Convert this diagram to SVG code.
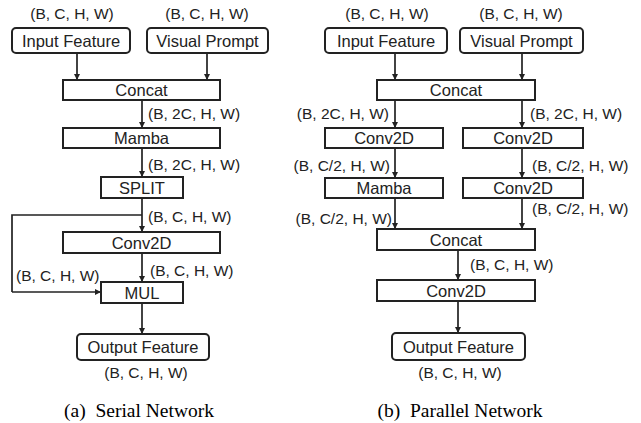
<svg xmlns="http://www.w3.org/2000/svg" width="641" height="423" viewBox="0 0 641 423">
<defs>
<marker id="ah" viewBox="0 0 10 10" refX="10" refY="5" markerWidth="6" markerHeight="6" markerUnits="userSpaceOnUse" orient="auto">
<path d="M0,0 L10,5 L0,10 z" fill="#222"/>
</marker>
<style>
.box{fill:#fff;stroke:#222;stroke-width:2}
.bt{font-family:"Liberation Sans",Arial,sans-serif;font-size:16.5px;fill:#222;text-anchor:middle}
.lb{font-family:"Liberation Sans",Arial,sans-serif;font-size:15.5px;fill:#222}
.cap{font-family:"Liberation Serif","Times New Roman",serif;font-size:19.5px;fill:#000;text-anchor:middle}
.ln{fill:none;stroke:#222;stroke-width:1.7;marker-end:url(#ah)}
.pl{fill:none;stroke:#222;stroke-width:1.7}
</style>
</defs>
<rect width="641" height="423" fill="#fff"/>
<g id="connectors">
<path class="ln" d="M77,53 V80"/>
<path class="ln" d="M207,53 V80"/>
<path class="ln" d="M142,100 V128"/>
<path class="ln" d="M142,148 V177"/>
<path class="ln" d="M142,198 V232"/>
<path class="pl" d="M142,215 H12 V292"/>
<path class="ln" d="M12,292 H101"/>
<path class="ln" d="M142,253 V282"/>
<path class="ln" d="M142,303 V334"/>
<path class="ln" d="M395,53 V80"/>
<path class="ln" d="M522,53 V80"/>
<path class="ln" d="M395,100 V128"/>
<path class="ln" d="M522,100 V128"/>
<path class="ln" d="M395,148 V178"/>
<path class="ln" d="M522,148 V178"/>
<path class="ln" d="M395,198 V229"/>
<path class="ln" d="M522,198 V229"/>
<path class="ln" d="M458,250 V280"/>
<path class="ln" d="M458,301 V333"/>
</g>
<g id="labels">
<text class="lb" x="72" y="19" text-anchor="middle">(B, C, H, W)</text>
<text class="lb" x="207" y="19" text-anchor="middle">(B, C, H, W)</text>
<text class="lb" x="148" y="119">(B, 2C, H, W)</text>
<text class="lb" x="148" y="170">(B, 2C, H, W)</text>
<text class="lb" x="148" y="222">(B, C, H, W)</text>
<text class="lb" x="150" y="276">(B, C, H, W)</text>
<text class="lb" x="16" y="281">(B, C, H, W)</text>
<text class="lb" x="146" y="378" text-anchor="middle">(B, C, H, W)</text>
<text class="lb" x="387" y="19" text-anchor="middle">(B, C, H, W)</text>
<text class="lb" x="521" y="19" text-anchor="middle">(B, C, H, W)</text>
<text class="lb" x="389" y="119" text-anchor="end">(B, 2C, H, W)</text>
<text class="lb" x="530" y="119">(B, 2C, H, W)</text>
<text class="lb" x="390" y="171" text-anchor="end">(B, C/2, H, W)</text>
<text class="lb" x="532" y="171">(B, C/2, H, W)</text>
<text class="lb" x="392" y="224" text-anchor="end">(B, C/2, H, W)</text>
<text class="lb" x="532" y="214">(B, C/2, H, W)</text>
<text class="lb" x="470" y="270">(B, C, H, W)</text>
<text class="lb" x="460" y="378" text-anchor="middle">(B, C, H, W)</text>
<text class="cap" x="139" y="417" xml:space="preserve">(a)  Serial Network</text>
<text class="cap" x="460" y="417" xml:space="preserve">(b)  Parallel Network</text>
</g>
<g id="a-input"><rect class="box" x="12" y="28" width="118" height="25" rx="4"/><text class="bt" x="71" y="46.5">Input Feature</text></g>
<g id="a-prompt"><rect class="box" x="147" y="28" width="121" height="25" rx="4"/><text class="bt" x="207.5" y="46.5">Visual Prompt</text></g>
<g id="a-concat"><rect class="box" x="63" y="80" width="157" height="20"/><text class="bt" x="141.5" y="96">Concat</text></g>
<g id="a-mamba"><rect class="box" x="63" y="128" width="157" height="20"/><text class="bt" x="141.5" y="144">Mamba</text></g>
<g id="a-split"><rect class="box" x="101" y="177" width="82" height="21"/><text class="bt" x="142" y="193.5">SPLIT</text></g>
<g id="a-conv"><rect class="box" x="63" y="232" width="157" height="21"/><text class="bt" x="141.5" y="248.5">Conv2D</text></g>
<g id="a-mul"><rect class="box" x="101" y="282" width="82" height="21"/><text class="bt" x="142" y="298.5">MUL</text></g>
<g id="a-output"><rect class="box" x="77" y="334" width="132" height="26" rx="4"/><text class="bt" x="143" y="353">Output Feature</text></g>
<g id="b-input"><rect class="box" x="325" y="28" width="122" height="25" rx="4"/><text class="bt" x="386" y="46.5">Input Feature</text></g>
<g id="b-prompt"><rect class="box" x="460" y="28" width="123" height="25" rx="4"/><text class="bt" x="521.5" y="46.5">Visual Prompt</text></g>
<g id="b-concat1"><rect class="box" x="377" y="80" width="158" height="20"/><text class="bt" x="456" y="96">Concat</text></g>
<g id="b-conv-l"><rect class="box" x="325" y="128" width="118" height="20"/><text class="bt" x="384" y="144">Conv2D</text></g>
<g id="b-conv-r"><rect class="box" x="463" y="128" width="120" height="20"/><text class="bt" x="523" y="144">Conv2D</text></g>
<g id="b-mamba"><rect class="box" x="325" y="178" width="118" height="20"/><text class="bt" x="384" y="194">Mamba</text></g>
<g id="b-conv-r2"><rect class="box" x="463" y="178" width="120" height="20"/><text class="bt" x="523" y="194">Conv2D</text></g>
<g id="b-concat2"><rect class="box" x="377" y="229" width="158" height="21"/><text class="bt" x="456" y="245.5">Concat</text></g>
<g id="b-conv3"><rect class="box" x="377" y="280" width="158" height="21"/><text class="bt" x="456" y="296.5">Conv2D</text></g>
<g id="b-output"><rect class="box" x="392" y="333" width="133" height="27" rx="4"/><text class="bt" x="458.5" y="352.5">Output Feature</text></g>
</svg>
